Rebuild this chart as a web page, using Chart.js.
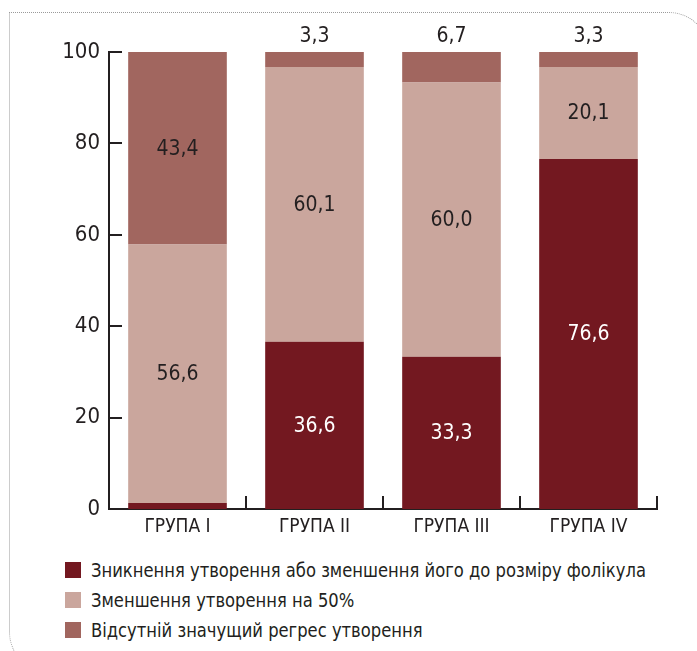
<!DOCTYPE html>
<html>
<head>
<meta charset="utf-8">
<script src="https://cdn.jsdelivr.net/npm/chart.js@4"></script>
<style>
  html, body { margin: 0; padding: 0; background: #fff; overflow: hidden; }
  body { width: 697px; height: 651px; position: relative; }
  #frame {
    position: absolute; left: 9px; top: 12px; width: 700px; height: 660px;
    border: 1.5px dotted #9a9a9a; border-top-right-radius: 40px; border-bottom-left-radius: 40px;
    box-sizing: border-box;
  }
  #wrap { position: absolute; left: 0; top: 0; width: 697px; height: 545px; }
  #legend {
    position: absolute; left: 65px; top: 555px;
    font-family: "Liberation Sans Narrow", "DejaVu Sans Condensed", sans-serif;
    font-size: 20px; color: #231f20;
  }
  .item { height: 30px; display: flex; align-items: center; white-space: nowrap; }
  .sw { width: 16px; height: 16px; margin-right: 10px; flex: none; }
  .tx { display: inline-block; transform: scaleX(0.91); transform-origin: left center; }
</style>
</head>
<body>
<div id="frame"></div>
<div id="wrap"><canvas id="c" width="697" height="545"></canvas></div>
<div id="legend"></div>
<script>
const categories = ["ГРУПА I", "ГРУПА II", "ГРУПА III", "ГРУПА IV"];
const seriesNames = [
  "Зникнення утворення або зменшення його до розміру фолікула",
  "Зменшення утворення на 50%",
  "Відсутній значущий регрес утворення"
];
const disappeared = [1.3, 36.6, 33.3, 76.6];
const halved = [56.6, 60.1, 60.0, 20.1];
const noRegress = [43.4, 3.3, 6.7, 3.3];
const yTicks = [0, 20, 40, 60, 80, 100];

const colors = ["#731820", "#caa69d", "#a1665f"];
const labelColors = ["#ffffff", "#231f20", "#231f20"];
const FONT = '"Liberation Sans Narrow", "DejaVu Sans Condensed", sans-serif';
const INK = "#231f20";

const fmt = v => v.toFixed(1).replace(".", ",");

const labelsPlugin = {
  id: "segLabels",
  afterDatasetsDraw(chart) {
    const ctx = chart.ctx;
    ctx.save();
    ctx.font = "21px " + FONT;
    ctx.textAlign = "center";
    ctx.textBaseline = "middle";
    chart.data.datasets.forEach((ds, i) => {
      const meta = chart.getDatasetMeta(i);
      meta.data.forEach((bar, j) => {
        const v = ds.data[j];
        if (v < 2) return;
        const top = Math.max(bar.y, chart.chartArea.top);
        let y = (top + bar.base) / 2 + 1;
        let color = labelColors[i];
        if (v < 10 && i === 2) { y = bar.y - 15; color = INK; }
        ctx.fillStyle = color;
        ctx.fillText(fmt(v), bar.x, y);
      });
    });
    ctx.restore();
  },
  afterDraw(chart) {
    const ctx = chart.ctx;
    const xs = chart.scales.x, ys = chart.scales.y;
    const area = chart.chartArea;
    ctx.save();
    ctx.strokeStyle = INK;
    ctx.lineWidth = 2;
    yTicks.forEach(t => {
      if (t === 0) return;
      const y = Math.round(ys.getPixelForValue(t));
      ctx.beginPath();
      ctx.moveTo(area.left, y);
      ctx.lineTo(area.left + 13, y);
      ctx.stroke();
    });
    const step = xs.getPixelForValue(1) - xs.getPixelForValue(0);
    for (let j = 0; j < categories.length; j++) {
      const x = Math.round(xs.getPixelForValue(j) + step / 2);
      ctx.beginPath();
      ctx.moveTo(x, area.bottom);
      ctx.lineTo(x, area.bottom - 13);
      ctx.stroke();
    }
    ctx.restore();
  }
};

const dsBase = { barPercentage: 0.72, categoryPercentage: 1, clip: 0, borderWidth: 0 };
new Chart(document.getElementById("c"), {
  type: "bar",
  data: {
    labels: categories,
    datasets: [
      Object.assign({ label: seriesNames[0], data: disappeared, backgroundColor: colors[0] }, dsBase),
      Object.assign({ label: seriesNames[1], data: halved, backgroundColor: colors[1] }, dsBase),
      Object.assign({ label: seriesNames[2], data: noRegress, backgroundColor: colors[2] }, dsBase)
    ]
  },
  options: {
    responsive: false,
    animation: false,
    layout: { padding: { top: 52, right: 40, left: 0, bottom: 6 } },
    plugins: { legend: { display: false }, tooltip: { enabled: false } },
    scales: {
      x: {
        stacked: true,
        grid: { display: false, drawTicks: false },
        border: { display: true, color: INK, width: 2 },
        ticks: { color: INK, font: { family: FONT, size: 19 }, padding: 7, maxRotation: 0 },
        afterFit(s) { s.height = 30; }
      },
      y: {
        stacked: true,
        min: 0, max: 100,
        grid: { display: false, drawTicks: false },
        border: { display: true, color: INK, width: 2 },
        afterBuildTicks(s) { s.ticks = yTicks.map(v => ({ value: v })); },
        ticks: { color: INK, font: { family: FONT, size: 22 }, padding: 9 },
        afterFit(s) { s.width = 109; }
      }
    }
  },
  plugins: [labelsPlugin]
});

const legend = document.getElementById("legend");
seriesNames.forEach((n, i) => {
  const row = document.createElement("div");
  row.className = "item";
  const sw = document.createElement("span");
  sw.className = "sw";
  sw.style.background = colors[i];
  const tx = document.createElement("span");
  tx.className = "tx";
  tx.textContent = n;
  row.appendChild(sw); row.appendChild(tx);
  legend.appendChild(row);
});
</script>
</body>
</html>
